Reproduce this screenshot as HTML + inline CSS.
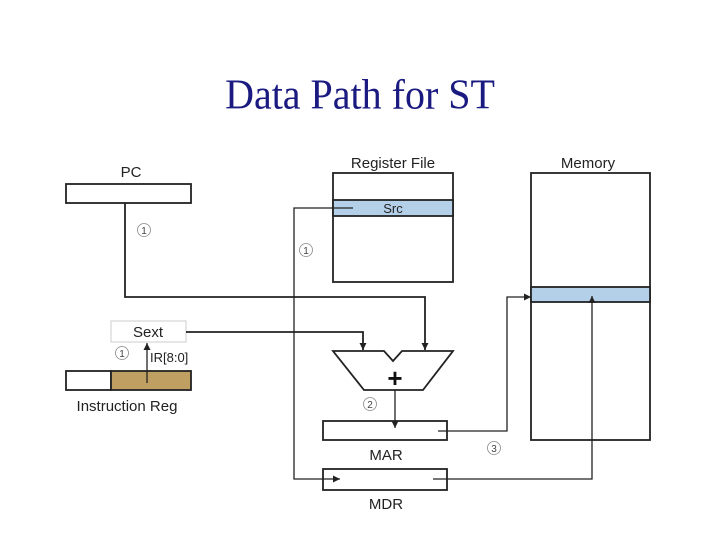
<!DOCTYPE html>
<html><head><meta charset="utf-8"><style>
html,body{margin:0;padding:0;background:#fff;}
svg{display:block;}
text{font-family:"Liberation Sans",sans-serif;}
</style></head><body>
<svg width="720" height="540" viewBox="0 0 720 540" xmlns="http://www.w3.org/2000/svg">
<defs>
<marker id="a" viewBox="0 0 10 10" refX="10" refY="5" markerWidth="7" markerHeight="7" orient="auto-start-reverse" markerUnits="userSpaceOnUse">
<path d="M0,0 L10,5 L0,10 z" fill="#222"/></marker>
</defs>
<text x="360" y="108" text-anchor="middle" font-size="40" fill="#1a1a80" transform="translate(0,-6) scale(1,1.06)" style="font-family:'Liberation Serif',serif">Data Path for ST</text>

<g font-size="15" fill="#222" text-anchor="middle">
<text x="131" y="177">PC</text>
<text x="393" y="168">Register File</text>
<text x="588" y="168">Memory</text>
<text x="127" y="411">Instruction Reg</text>
<text x="386" y="460">MAR</text>
<text x="386" y="509">MDR</text>
</g>

<g stroke="#222" stroke-width="1.8" fill="none">
<rect x="66" y="184" width="125" height="19" fill="#fff"/>
<rect x="333" y="173" width="120" height="109" fill="#fff"/>
<rect x="333" y="200" width="120" height="16" fill="#b4cfe8"/>
<rect x="531" y="173" width="119" height="267" fill="#fff"/>
<rect x="531" y="287" width="119" height="15" fill="#b4cfe8"/>
<rect x="66" y="371" width="45" height="19" fill="#fff"/>
<rect x="111" y="371" width="80" height="19" fill="#c0a062"/>
<rect x="323" y="421" width="124" height="19" fill="#fff"/>
<rect x="323" y="469" width="124" height="21" fill="#fff"/>
<polygon points="333,351 384,351 393,361 402,351 453,351 423,390 364,390" fill="#fff"/>
</g>
<rect x="111" y="321" width="75" height="21" fill="#fff" stroke="#ccc" stroke-width="1"/>
<text x="148" y="337" font-size="15" text-anchor="middle" fill="#222">Sext</text>
<text x="393" y="213" font-size="13" text-anchor="middle" fill="#222">Src</text>
<text x="395" y="387" font-size="26" font-weight="bold" text-anchor="middle" fill="#111">+</text>
<text x="150" y="362" font-size="13" fill="#222">IR[8:0]</text>

<g stroke="#222" stroke-width="1.8" fill="none">
<polyline points="125,203 125,297 425,297 425,350" marker-end="url(#a)"/>
<polyline points="186,332 363,332 363,350" marker-end="url(#a)"/>
<polyline points="353,208 294,208 294,479 340,479" stroke-width="1.3" marker-end="url(#a)"/>
<polyline points="395,390 395,428" stroke-width="1.3" marker-end="url(#a)"/>
<polyline points="438,431 507,431 507,297 531,297" stroke-width="1.3" marker-end="url(#a)"/>
<polyline points="433,479 592,479 592,296" stroke-width="1.3" marker-end="url(#a)"/>
<polyline points="147,383 147,343" stroke-width="1.3" marker-end="url(#a)"/>
</g>

<g stroke="#888" stroke-width="0.8">
<circle cx="144" cy="230" r="6.5" fill="#fff"/>
<circle cx="306" cy="250" r="6.5" fill="#fff"/>
<circle cx="122" cy="353" r="6.5" fill="#fff"/>
<circle cx="370" cy="404" r="6.5" fill="#fff"/>
<circle cx="494" cy="448" r="6.5" fill="#fff"/>
</g>
<g font-size="10" fill="#444" text-anchor="middle">
<text x="144" y="234">1</text>
<text x="306" y="254">1</text>
<text x="122" y="357">1</text>
<text x="370" y="408">2</text>
<text x="494" y="452">3</text>
</g>
</svg>
</body></html>
